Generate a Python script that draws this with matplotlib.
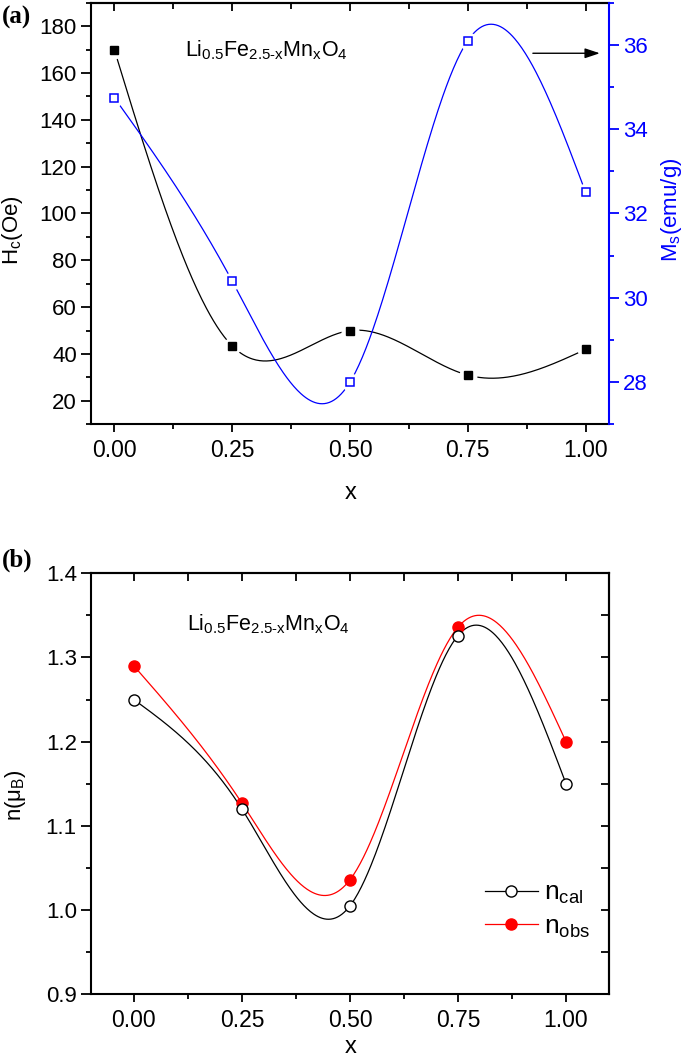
import numpy as np
import matplotlib
matplotlib.use('Agg')
import matplotlib.pyplot as plt
from matplotlib.ticker import MultipleLocator, FormatStrFormatter

plt.rcParams['font.family'] = 'Liberation Sans'
plt.rcParams['mathtext.fontset'] = 'custom'
plt.rcParams['mathtext.rm'] = 'Liberation Sans'
plt.rcParams['mathtext.it'] = 'Liberation Sans:italic'
plt.rcParams['mathtext.bf'] = 'Liberation Sans:bold'
plt.rcParams['mathtext.default'] = 'regular'

# dane
x = np.array([0.0, 0.25, 0.5, 0.75, 1.0])
hc = np.array([170.0, 43.5, 50.0, 31.0, 42.0])
ms = np.array([34.75, 30.4, 28.0, 36.1, 32.5])
n_cal = np.array([1.25, 1.12, 1.005, 1.326, 1.15])
n_obs = np.array([1.29, 1.127, 1.036, 1.336, 1.20])

formula = r'Li$_{0.5}$Fe$_{2.5\text{-}x}$Mn$_x$O$_4$'
blue = '#0000ff'
red = '#ff0000'


def spline(xp, yp, xs):
    # naturalny splajn szescienny
    n = len(xp)
    h = np.diff(xp)
    A = np.zeros((n, n))
    r = np.zeros(n)
    A[0, 0] = A[-1, -1] = 1
    for i in range(1, n - 1):
        A[i, i - 1] = h[i - 1]
        A[i, i] = 2 * (h[i - 1] + h[i])
        A[i, i + 1] = h[i]
        r[i] = 3 * ((yp[i + 1] - yp[i]) / h[i] - (yp[i] - yp[i - 1]) / h[i - 1])
    c = np.linalg.solve(A, r)
    b = (yp[1:] - yp[:-1]) / h - h * (2 * c[:-1] + c[1:]) / 3
    d = (c[1:] - c[:-1]) / (3 * h)
    idx = np.clip(np.searchsorted(xp, xs) - 1, 0, n - 2)
    dx = xs - xp[idx]
    return yp[idx] + b[idx] * dx + c[idx] * dx ** 2 + d[idx] * dx ** 3


xs = np.linspace(0, 1, 400)

fig = plt.figure(figsize=(6.85, 10.64), dpi=100)

# ---------------- (a) ----------------
ax1 = fig.add_axes([0.1324, 0.6012, 0.757, 0.3963])
ax1.plot(xs, spline(x, hc, xs), color='black', lw=0.9, zorder=1)
ax1.plot(x, hc, 'o', ms=12, mfc='white', mec='white', zorder=2)
ax1.plot(x, hc, 's', ms=5.5, color='black', zorder=3)
ax1.set_xlim(-0.05, 1.05)
ax1.set_ylim(10, 190)
ax1.xaxis.set_major_locator(MultipleLocator(0.25))
ax1.xaxis.set_minor_locator(MultipleLocator(0.125))
ax1.xaxis.set_major_formatter(FormatStrFormatter('%.2f'))
ax1.yaxis.set_major_locator(MultipleLocator(20))
ax1.yaxis.set_minor_locator(MultipleLocator(10))
ax1.tick_params(axis='x', which='major', direction='out', length=5.5, width=1.3, labelsize=16.5, pad=5)
ax1.tick_params(axis='x', which='minor', direction='out', length=3.5, width=1.3)
ax1.tick_params(axis='y', which='major', direction='out', length=7, width=1.3, labelsize=16, pad=3)
ax1.tick_params(axis='y', which='minor', direction='out', length=3.5, width=1.3)
for s in ax1.spines.values():
    s.set_linewidth(1.5)
ax1.spines['right'].set_visible(False)
top1 = ax1.secondary_xaxis('top')
top1.xaxis.set_major_locator(MultipleLocator(0.25))
top1.xaxis.set_minor_locator(MultipleLocator(0.125))
top1.tick_params(which='both', direction='in', labeltop=False, width=1.3)
top1.tick_params(which='major', length=6)
top1.tick_params(which='minor', length=4)
top1.spines['top'].set_linewidth(1.5)

ax1.set_xlabel('x', fontsize=17)
ax1.xaxis.set_label_coords(0.502, -0.137)
ax1.set_ylabel('H$_c$(Oe)', fontsize=16, va='center', ha='center')
ax1.yaxis.set_label_coords(-0.15, 0.46)
ax1.text(0.182, 0.872, formula, transform=ax1.transAxes, fontsize=15.5, ha='left', va='baseline')

ax2 = ax1.twinx()
ax2.plot(xs, spline(x, ms, xs), color=blue, lw=0.9, zorder=1)
ax2.plot(x, ms, 'o', ms=12, mfc='white', mec='white', zorder=2)
ax2.plot(x, ms, 's', ms=5.5, mfc='white', mec=blue, mew=1.1, zorder=3)
ax2.set_ylim(27, 37)
ax2.yaxis.set_major_locator(MultipleLocator(2))
ax2.yaxis.set_minor_locator(MultipleLocator(1))
ax2.tick_params(axis='y', which='major', direction='out', length=7, width=1.3,
                labelsize=16, pad=3, colors=blue)
ax2.tick_params(axis='y', which='minor', direction='out', length=3.5, width=1.3, colors=blue)
for k in ['left', 'top', 'bottom']:
    ax2.spines[k].set_visible(False)
ax2.spines['right'].set_color(blue)
ax2.spines['right'].set_linewidth(1.5)
ax2.set_ylabel('M$_s$(emu/g)', fontsize=16, color=blue, va='center', ha='center')
ax2.yaxis.set_label_coords(1.12, 0.508)
ax2.annotate('', xy=(1.03, 35.8), xytext=(0.888, 35.8),
             arrowprops=dict(arrowstyle='-|>,head_length=0.9,head_width=0.3',
                             color='black', lw=1, mutation_scale=10, shrinkA=0, shrinkB=0))

fig.text(0.003, 1 - 17 / 1064, '(a)', family='Liberation Serif', weight='bold',
         fontsize=18, va='center', ha='left')

# ---------------- (b) ----------------
ax3 = fig.add_axes([0.1324, 0.0655, 0.757, 0.3957])
ax3.plot(xs, spline(x, n_obs, xs), color=red, lw=0.9, zorder=1)
ax3.plot(xs, spline(x, n_cal, xs), color='black', lw=0.9, zorder=1)
ax3.plot(x, n_obs, 'o', ms=8, color=red, zorder=3)
ax3.plot(x, n_cal, 'o', ms=8, mfc='white', mec='black', mew=1, zorder=4)
ax3.set_xlim(-0.1, 1.1)
ax3.set_ylim(0.9, 1.4)
ax3.xaxis.set_major_locator(MultipleLocator(0.25))
ax3.xaxis.set_minor_locator(MultipleLocator(0.125))
ax3.xaxis.set_major_formatter(FormatStrFormatter('%.2f'))
ax3.yaxis.set_major_locator(MultipleLocator(0.1))
ax3.yaxis.set_minor_locator(MultipleLocator(0.05))
ax3.yaxis.set_major_formatter(FormatStrFormatter('%.1f'))
ax3.tick_params(axis='x', which='major', direction='out', length=5.5, width=1.3, labelsize=16.5, pad=5)
ax3.tick_params(axis='x', which='minor', direction='out', length=3.5, width=1.3)
ax3.tick_params(axis='y', which='major', direction='out', length=7, width=1.3, labelsize=16, pad=3)
ax3.tick_params(axis='y', which='minor', direction='out', length=3.5, width=1.3)
for s in ax3.spines.values():
    s.set_linewidth(1.5)
top3 = ax3.secondary_xaxis('top')
top3.xaxis.set_major_locator(MultipleLocator(0.25))
top3.xaxis.set_minor_locator(MultipleLocator(0.125))
top3.tick_params(which='both', direction='in', labeltop=False, width=1.3, length=6)
top3.spines['top'].set_linewidth(1.5)
right3 = ax3.secondary_yaxis('right')
right3.yaxis.set_major_locator(MultipleLocator(0.1))
right3.yaxis.set_minor_locator(MultipleLocator(0.05))
right3.tick_params(which='both', direction='in', labelright=False, width=1.3, length=6)
right3.spines['right'].set_linewidth(1.5)

ax3.set_xlabel('x', fontsize=17)
ax3.xaxis.set_label_coords(0.502, -0.1)
ax3.set_ylabel('n(μ$_B$)', fontsize=16, va='center', ha='center')
ax3.yaxis.set_label_coords(-0.145, 0.473)
ax3.text(0.186, 0.865, formula, transform=ax3.transAxes, fontsize=15.5, ha='left', va='baseline')

h_cal, = ax3.plot([], [], '-o', color='black', lw=0.9, ms=8, mfc='white', mec='black')
h_obs, = ax3.plot([], [], '-o', color=red, lw=0.9, ms=8)
ax3.legend([h_cal, h_obs], ['n$_{cal}$', 'n$_{obs}$'], loc='upper left',
           bbox_to_anchor=(0.735, 0.30), frameon=False, fontsize=19,
           handlelength=2.0, handletextpad=0.25, labelspacing=0.3, borderpad=0)

fig.text(0.003, 1 - 560 / 1064, '(b)', family='Liberation Serif', weight='bold',
         fontsize=18, va='center', ha='left')

fig.savefig('out.png', dpi=100)
